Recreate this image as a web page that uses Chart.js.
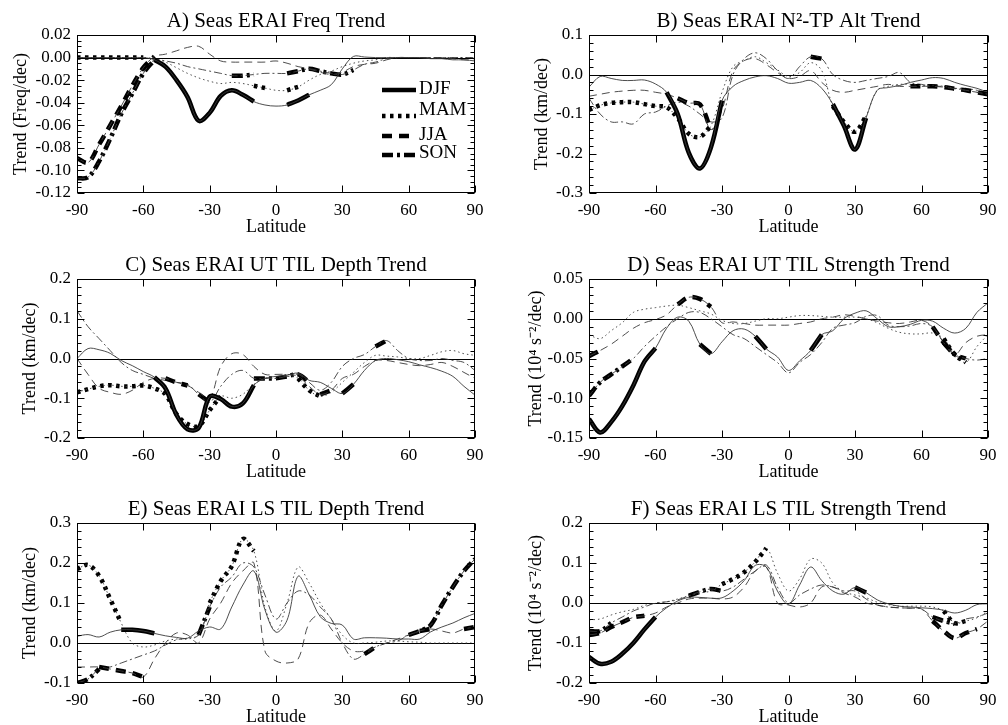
<!DOCTYPE html>
<html>
<head>
<meta charset="utf-8">
<script src="https://cdn.jsdelivr.net/npm/chart.js@4.4.1/dist/chart.umd.min.js"></script>
<style>
  body { margin: 0; background: #fff; width: 1008px; height: 725px; overflow: hidden; position: relative; }
  canvas { position: absolute; }
</style>
</head>
<body>
<canvas id="cA" width="500" height="245" style="left:0;top:0"></canvas>
<canvas id="cB" width="508" height="245" style="left:500px;top:0"></canvas>
<canvas id="cC" width="500" height="245" style="left:0;top:245px"></canvas>
<canvas id="cD" width="508" height="245" style="left:500px;top:245px"></canvas>
<canvas id="cE" width="500" height="245" style="left:0;top:490px"></canvas>
<canvas id="cF" width="508" height="245" style="left:500px;top:490px"></canvas>
<script>
// latitude grid, every 5 degrees
const lats = [-90,-85,-80,-75,-70,-65,-60,-55,-50,-45,-40,-35,-30,-25,-20,-15,-10,-5,0,5,10,15,20,25,30,35,40,45,50,55,60,65,70,75,80,85,90];
const xTicks = [-90,-60,-30,0,30,60,90];
const seasons = ['DJF','MAM','JJA','SON'];

// A) Freq trend
const aDJF = [0,0,0,0,0,0,0,-0.002,-0.008,-0.02,-0.035,-0.056,-0.049,-0.034,-0.029,-0.033,-0.039,-0.042,-0.043,-0.042,-0.038,-0.033,-0.029,-0.024,-0.01,0.001,0.0005,0,0,0,0,0,-0.001,-0.001,-0.002,-0.002,-0.003];
const aMAM = [0,0,0,0,0,0,0,-0.001,-0.004,-0.009,-0.014,-0.018,-0.021,-0.023,-0.022,-0.023,-0.025,-0.027,-0.029,-0.029,-0.026,-0.02,-0.015,-0.012,-0.008,-0.005,-0.003,-0.002,0,0,0,0,0,0,0,0,0];
const aJJA = [-0.089,-0.093,-0.077,-0.06,-0.043,-0.025,-0.009,0.001,0.003,0.006,0.009,0.01,0.003,-0.003,-0.004,-0.004,-0.004,-0.004,-0.003,-0.005,-0.008,-0.01,-0.013,-0.015,-0.013,-0.008,-0.006,-0.005,-0.002,0,0,0,0,0,-0.001,-0.002,-0.002];
const aSON = [-0.107,-0.106,-0.092,-0.072,-0.05,-0.032,-0.014,-0.002,-0.003,-0.005,-0.008,-0.01,-0.012,-0.014,-0.016,-0.016,-0.015,-0.014,-0.014,-0.014,-0.012,-0.01,-0.012,-0.014,-0.015,-0.011,-0.006,-0.004,-0.001,0,0,0,0,0,0,0,0];
const aSig = [[[-55,-10],[5,15]], [[-90,-60],[-10,-5],[5,10]], [[-90,-55]], [[-90,-55],[-20,-10],[5,35]]];
const aYTicks = [-0.12,-0.10,-0.08,-0.06,-0.04,-0.02,0.00,0.02];

// B) N2-TP altitude trend
const bDJF = [-0.032,-0.005,-0.01,-0.015,-0.015,-0.014,-0.024,-0.045,-0.1,-0.198,-0.238,-0.185,-0.066,-0.03,-0.015,-0.006,-0.003,-0.01,-0.022,-0.02,-0.015,-0.035,-0.075,-0.13,-0.19,-0.11,-0.04,-0.033,-0.028,-0.02,-0.014,-0.008,-0.01,-0.02,-0.028,-0.035,-0.045];
const bMAM = [-0.09,-0.078,-0.072,-0.07,-0.07,-0.075,-0.08,-0.083,-0.11,-0.15,-0.158,-0.13,-0.045,0.02,0.035,0.045,0.03,0.012,-0.005,0.005,0.03,0.01,-0.08,-0.12,-0.145,-0.105,-0.04,-0.03,-0.025,-0.025,-0.028,-0.027,-0.03,-0.035,-0.04,-0.045,-0.05];
const bJJA = [-0.055,-0.05,-0.045,-0.042,-0.04,-0.04,-0.045,-0.05,-0.06,-0.072,-0.075,-0.14,-0.09,0.01,0.035,0.04,0.025,0.005,-0.01,-0.005,0.01,-0.02,-0.04,-0.045,-0.04,-0.035,-0.03,-0.025,-0.03,-0.03,-0.03,-0.03,-0.032,-0.036,-0.04,-0.045,-0.05];
const bSON = [-0.06,-0.1,-0.12,-0.12,-0.125,-0.1,-0.095,-0.08,-0.07,-0.08,-0.1,-0.12,-0.11,0.0,0.04,0.055,0.04,0.01,-0.01,0.02,0.045,0.04,0.0,-0.015,-0.02,-0.015,-0.01,-0.005,0.005,-0.02,-0.025,-0.03,-0.03,-0.035,-0.035,-0.04,-0.045];
const bSig = [[[-55,-30],[20,35]], [[-90,-35],[20,35]], [[-50,-35],[55,90]], [[10,15]]];
const bYTicks = [-0.3,-0.2,-0.1,0.0,0.1];

// C) UT TIL depth trend
const cDJF = [0.0,0.025,0.022,0.013,-0.005,-0.018,-0.033,-0.047,-0.075,-0.142,-0.178,-0.175,-0.096,-0.102,-0.121,-0.113,-0.067,-0.05,-0.045,-0.042,-0.037,-0.055,-0.06,-0.075,-0.088,-0.065,-0.03,-0.005,0.0,-0.003,-0.008,-0.016,-0.023,-0.032,-0.045,-0.07,-0.092];
const cMAM = [-0.085,-0.077,-0.07,-0.067,-0.07,-0.07,-0.068,-0.075,-0.09,-0.14,-0.165,-0.17,-0.13,-0.095,-0.1,-0.09,-0.065,-0.05,-0.05,-0.045,-0.05,-0.08,-0.095,-0.085,-0.06,-0.035,-0.01,0.008,0.006,0.004,0.0,0.0,0.008,0.017,0.02,0.012,0.008];
const cJJA = [0.0,-0.04,-0.075,-0.085,-0.09,-0.08,-0.06,-0.05,-0.05,-0.06,-0.068,-0.085,-0.1,-0.02,0.012,0.01,-0.02,-0.04,-0.04,-0.04,-0.045,-0.07,-0.09,-0.08,-0.05,-0.04,-0.02,-0.005,-0.005,-0.01,-0.015,-0.018,-0.015,-0.01,-0.02,-0.035,-0.05];
const cSON = [0.12,0.08,0.05,0.02,-0.01,-0.03,-0.04,-0.05,-0.055,-0.06,-0.065,-0.09,-0.11,-0.07,-0.04,-0.03,-0.05,-0.05,-0.05,-0.045,-0.04,-0.06,-0.08,-0.06,-0.02,0.0,0.01,0.03,0.045,0.02,0.0,-0.005,-0.005,0.0,-0.005,-0.01,-0.03];
const cSig = [[[-55,-10],[30,35]], [[-90,-25],[10,20]], [[-50,-40],[20,25]], [[-35,-30],[-10,0],[5,15],[45,50]]];
const cYTicks = [-0.2,-0.1,0.0,0.1,0.2];

// D) UT TIL strength trend
const dDJF = [-0.126,-0.143,-0.13,-0.11,-0.084,-0.054,-0.037,-0.012,0.002,-0.003,-0.032,-0.044,-0.029,-0.015,-0.013,-0.022,-0.038,-0.048,-0.065,-0.053,-0.04,-0.02,-0.015,0.0,0.007,0.01,0.0,-0.01,-0.01,-0.007,-0.002,-0.003,-0.012,-0.018,-0.012,0.008,0.02];
const dMAM = [-0.02,-0.025,-0.015,-0.005,0.008,0.012,0.014,0.016,0.017,0.014,0.01,0.006,-0.002,-0.006,-0.006,-0.003,0.0,0.0,0.002,0.004,0.004,0.003,0.002,0.002,0.002,0.0,-0.005,-0.012,-0.017,-0.019,-0.019,-0.018,-0.025,-0.045,-0.055,-0.035,-0.02];
const dJJA = [-0.047,-0.04,-0.032,-0.022,-0.012,-0.005,-0.001,0.005,0.018,0.027,0.025,0.015,-0.005,-0.004,-0.006,-0.008,-0.008,-0.008,-0.008,-0.006,-0.004,0.0,0.002,0.005,0.003,0.0,-0.003,-0.005,-0.006,-0.004,-0.002,-0.01,-0.03,-0.045,-0.03,-0.022,-0.02];
const dSON = [-0.097,-0.08,-0.07,-0.06,-0.05,-0.035,-0.022,-0.01,0.0,0.008,0.008,0.0,-0.01,-0.02,-0.025,-0.035,-0.045,-0.055,-0.068,-0.055,-0.045,-0.03,-0.012,-0.008,-0.005,0.003,0.004,-0.008,-0.01,-0.009,-0.006,-0.01,-0.03,-0.045,-0.05,-0.052,-0.05];
const dSig = [[[-90,-60],[-40,-35],[-15,-10],[10,15]], [[70,80]], [[-90,-85],[-50,-35],[65,75]], [[-90,-70],[70,80]]];
const dYTicks = [-0.15,-0.10,-0.05,0.00,0.05];

// E) LS TIL depth trend
const eDJF = [0.017,0.021,0.015,0.027,0.033,0.033,0.03,0.024,0.018,0.014,0.012,0.03,0.04,0.035,0.09,0.145,0.18,0.083,0.027,0.057,0.167,0.121,0.066,0.049,0.045,0.01,0.013,0.013,0.012,0.01,0.01,0.01,0.028,0.04,0.05,0.063,0.074];
const eMAM = [0.185,0.195,0.168,0.11,0.05,0.0,-0.01,-0.005,0.005,0.01,0.01,0.02,0.1,0.155,0.192,0.26,0.23,0.09,0.03,0.1,0.19,0.15,0.1,0.06,0.02,0.0,0.0,0.002,0.005,0.005,0.003,0.002,0.0,0.0,0.0,0.0,0.0];
const eJJA = [-0.06,-0.06,-0.06,-0.065,-0.07,-0.075,-0.085,-0.04,0.0,0.025,0.02,0.0,0.06,0.1,0.15,0.18,0.2,-0.02,-0.045,-0.05,-0.04,0.05,0.07,0.035,0.0,-0.02,-0.02,-0.01,0.0,0.01,0.02,0.03,0.035,0.03,0.025,0.035,0.04];
const eSON = [-0.1,-0.09,-0.065,-0.06,-0.05,-0.04,-0.03,-0.02,-0.005,0.008,0.012,0.02,0.09,0.14,0.165,0.2,0.19,0.12,0.06,0.1,0.13,0.12,0.09,0.06,0.0,-0.04,-0.028,-0.01,0.0,0.005,0.02,0.03,0.045,0.095,0.14,0.18,0.21];
const eSig = [[[-70,-55]], [[-90,-70],[-30,-10]], [[-80,-60],[65,70],[85,90]], [[-90,-80],[-35,-30],[40,45],[60,90]]];
const eYTicks = [-0.1,0.0,0.1,0.2,0.3];

// F) LS TIL strength trend
const fDJF = [-0.135,-0.152,-0.147,-0.127,-0.1,-0.066,-0.035,-0.012,0.005,0.014,0.014,0.012,0.013,0.03,0.056,0.094,0.09,0.03,-0.003,0.045,0.09,0.056,0.03,0.022,0.039,0.026,0.008,-0.002,-0.008,-0.01,-0.012,-0.014,-0.018,-0.025,-0.018,-0.004,-0.002];
const fMAM = [-0.042,-0.04,-0.03,-0.022,-0.016,-0.006,-0.001,0.003,0.01,0.018,0.025,0.03,0.047,0.06,0.077,0.103,0.137,0.075,0.03,0.06,0.11,0.1,0.05,0.028,0.02,0.013,0.002,-0.004,-0.008,-0.008,-0.008,-0.01,-0.02,-0.05,-0.045,-0.037,-0.02];
const fJJA = [-0.08,-0.075,-0.06,-0.048,-0.036,-0.032,-0.025,-0.01,0.0,0.01,0.012,0.012,0.01,0.015,0.04,0.08,0.09,0.0,-0.005,-0.01,0.0,0.04,0.04,0.025,0.015,0.0,-0.005,-0.01,-0.012,-0.013,-0.015,-0.045,-0.07,-0.088,-0.075,-0.065,-0.045];
const fSON = [-0.07,-0.07,-0.05,-0.035,-0.02,-0.01,0.0,0.003,0.008,0.018,0.028,0.035,0.03,0.04,0.06,0.08,0.095,0.04,0.0,0.02,0.035,0.045,0.04,0.03,0.03,0.01,-0.005,-0.01,-0.012,-0.013,-0.015,-0.035,-0.045,-0.052,-0.04,-0.035,-0.025];
const fSig = [[[-90,-60],[30,35]], [[-30,-10],[70,80]], [[-90,-65],[65,85]], [[-90,-80],[-45,-30],[65,75]]];
const fYTicks = [-0.2,-0.1,0.0,0.1,0.2];

// line styles per season (DJF solid, MAM dotted, JJA dashed, SON dash-dot)
const thinDash = [[], [1.5, 3], [8, 5], [8, 3, 2, 3]];
const thickDash = [[], [3.5, 4.5], [10, 7], [11, 4, 3, 4]];
const thinColor = '#3a3a3a';
const thickWidth = 4.5;
const serif = '"Liberation Serif", "Times New Roman", serif';

Chart.defaults.font.family = serif;
Chart.defaults.color = '#000';

const panels = [
  { id: 'cA', title: 'A) Seas ERAI Freq Trend', ylab: 'Trend (Freq/dec)', series: [aDJF, aMAM, aJJA, aSON], sig: aSig, yT: aYTicks, dec: 2, minor: 4, left: 77, right: 475, top: 35, w: 500, ytp: 10, legend: true },
  { id: 'cB', title: 'B) Seas ERAI N\u00B2-TP Alt Trend', ylab: 'Trend (km/dec)', series: [bDJF, bMAM, bJJA, bSON], sig: bSig, yT: bYTicks, dec: 1, minor: 5, left: 89, right: 488, top: 35, w: 508, ytp: 31 },
  { id: 'cC', title: 'C) Seas ERAI UT TIL Depth Trend', ylab: 'Trend (km/dec)', series: [cDJF, cMAM, cJJA, cSON], sig: cSig, yT: cYTicks, dec: 1, minor: 5, left: 77, right: 475, top: 34, w: 500, ytp: 19 },
  { id: 'cD', title: 'D) Seas ERAI UT TIL Strength Trend', ylab: 'Trend (10\u2074 s\u207B\u00B2/dec)', series: [dDJF, dMAM, dJJA, dSON], sig: dSig, yT: dYTicks, dec: 2, minor: 5, left: 89, right: 488, top: 34, w: 508, ytp: 25 },
  { id: 'cE', title: 'E) Seas ERAI LS TIL Depth Trend', ylab: 'Trend (km/dec)', series: [eDJF, eMAM, eJJA, eSON], sig: eSig, yT: eYTicks, dec: 1, minor: 5, left: 77, right: 475, top: 33, w: 500, ytp: 19 },
  { id: 'cF', title: 'F) Seas ERAI LS TIL Strength Trend', ylab: 'Trend (10\u2074 s\u207B\u00B2/dec)', series: [fDJF, fMAM, fJJA, fSON], sig: fSig, yT: fYTicks, dec: 1, minor: 5, left: 89, right: 488, top: 33, w: 508, ytp: 25 }
];

function inSig(lat, ranges) {
  return ranges.some(r => lat >= r[0] && lat <= r[1]);
}

function makeDatasets(series, sig) {
  const out = [];
  series.forEach((vals, i) => {
    // full curve, thin
    out.push({
      label: seasons[i],
      data: lats.map((x, k) => ({ x: x, y: vals[k] })),
      borderColor: thinColor, borderWidth: 0.9, borderDash: thinDash[i]
    });
    // significant parts, thick
    out.push({
      label: seasons[i] + ' sig',
      data: lats.map((x, k) => ({ x: x, y: inSig(x, sig[i]) ? vals[k] : null })),
      borderColor: '#000', borderWidth: thickWidth, borderDash: thickDash[i]
    });
  });
  return out;
}

// IDL style frame: box, inward ticks on all sides, zero line, title, legend
const idlFrame = {
  id: 'idlFrame',
  beforeDatasetsDraw(chart) {
    const { ctx, chartArea: a, scales: { y } } = chart;
    const y0 = Math.round(y.getPixelForValue(0)) + 0.5;
    ctx.save();
    ctx.strokeStyle = '#000';
    ctx.lineWidth = 1;
    ctx.beginPath();
    ctx.moveTo(a.left, y0);
    ctx.lineTo(a.right, y0);
    ctx.stroke();
    ctx.restore();
  },
  afterDatasetsDraw(chart, args, opts) {
    const { ctx, chartArea: a, scales: { x, y } } = chart;
    const L = Math.round(a.left) + 0.5, R = Math.round(a.right) - 0.5;
    const T = Math.round(a.top) + 0.5, B = Math.round(a.bottom) - 0.5;
    ctx.save();
    ctx.strokeStyle = '#000';
    ctx.lineWidth = 1;
    ctx.strokeRect(L, T, R - L, B - T);
    ctx.beginPath();
    xTicks.forEach(v => {
      const px = Math.round(x.getPixelForValue(v)) + 0.5;
      ctx.moveTo(px, B); ctx.lineTo(px, B - 7);
      ctx.moveTo(px, T); ctx.lineTo(px, T + 7);
    });
    const yT = opts.yT;
    yT.forEach((v, i) => {
      const py = Math.round(y.getPixelForValue(v)) + 0.5;
      ctx.moveTo(L, py); ctx.lineTo(L + 7, py);
      ctx.moveTo(R, py); ctx.lineTo(R - 7, py);
      if (i < yT.length - 1) {
        for (let j = 1; j < opts.minor; j++) {
          const m = v + (yT[i + 1] - v) * j / opts.minor;
          const pm = Math.round(y.getPixelForValue(m)) + 0.5;
          ctx.moveTo(L, pm); ctx.lineTo(L + 4, pm);
          ctx.moveTo(R, pm); ctx.lineTo(R - 4, pm);
        }
      }
    });
    ctx.stroke();

    // panel title
    ctx.fillStyle = '#000';
    ctx.font = '21px ' + serif;
    ctx.textAlign = 'center';
    ctx.textBaseline = 'middle';
    ctx.fillText(opts.title, (a.left + a.right) / 2, a.top - 14);

    // legend (panel A only)
    if (opts.legend) {
      const lineY = [90, 116, 136, 155];
      const textY = [89, 110, 135, 153];
      ctx.font = '19px ' + serif;
      ctx.textAlign = 'left';
      seasons.forEach((s, i) => {
        ctx.beginPath();
        ctx.lineWidth = thickWidth;
        ctx.setLineDash(thickDash[i]);
        ctx.moveTo(382, lineY[i]);
        ctx.lineTo(416, lineY[i]);
        ctx.stroke();
        ctx.setLineDash([]);
        ctx.fillText(s, 419, textY[i]);
      });
    }
    ctx.restore();
  }
};

panels.forEach(p => {
  new Chart(document.getElementById(p.id), {
    type: 'line',
    data: { datasets: makeDatasets(p.series, p.sig) },
    plugins: [idlFrame],
    options: {
      responsive: false,
      animation: false,
      spanGaps: false,
      layout: { padding: { top: p.top, right: p.w - p.right, left: 0, bottom: 0 } },
      elements: {
        point: { radius: 0, hoverRadius: 0 },
        line: { tension: 0.35, fill: false }
      },
      plugins: {
        legend: { display: false },
        tooltip: { enabled: false },
        idlFrame: { title: p.title, yT: p.yT, minor: p.minor, legend: !!p.legend }
      },
      scales: {
        x: {
          type: 'linear', min: -90, max: 90,
          afterBuildTicks: s => { s.ticks = xTicks.map(v => ({ value: v })); },
          afterFit: s => { s.height = 245 - 193; },
          grid: { display: false, drawTicks: false },
          border: { display: false },
          ticks: { padding: 7, font: { size: 17 }, color: '#000', autoSkip: false, maxRotation: 0, callback: v => String(v) },
          title: { display: true, text: 'Latitude', font: { size: 18 }, color: '#000', padding: { top: 0, bottom: 7 } }
        },
        y: {
          type: 'linear', min: p.yT[0], max: p.yT[p.yT.length - 1],
          afterBuildTicks: s => { s.ticks = p.yT.map(v => ({ value: v })); },
          afterFit: s => { s.width = p.left; },
          grid: { display: false, drawTicks: false },
          border: { display: false },
          ticks: { padding: 6, font: { size: 17 }, color: '#000', autoSkip: false, callback: v => Number(v).toFixed(p.dec) },
          title: { display: true, text: p.ylab, font: { size: 18 }, color: '#000', padding: { top: p.ytp, bottom: 0 } }
        }
      }
    }
  });
});
</script>
</body>
</html>
